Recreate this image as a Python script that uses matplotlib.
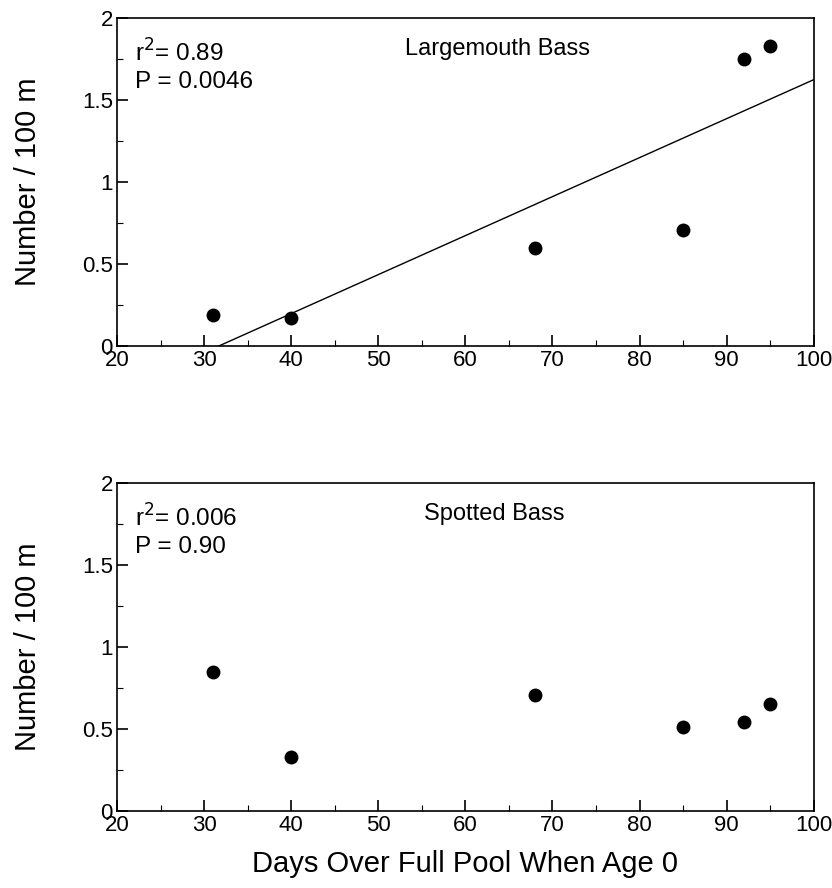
import numpy as np
import matplotlib
matplotlib.use('Agg')
import matplotlib.pyplot as plt
from matplotlib.ticker import MultipleLocator

plt.rcParams['font.family'] = ['Liberation Sans', 'DejaVu Sans']
plt.rcParams['font.size'] = 14

days = [31, 40, 68, 85, 92, 95]
largemouth = [0.19, 0.17, 0.60, 0.71, 1.75, 1.83]
spotted = [0.85, 0.33, 0.71, 0.51, 0.54, 0.65]

species = ['Largemouth Bass', 'Spotted Bass']
r2_text = ['0.89', '0.006']
p_text = ['0.0046', '0.90']
name_x = [0.413, 0.44]


def style_axes(ax):
    ax.set_xlim(20, 100)
    ax.set_ylim(0, 2)
    ax.xaxis.set_major_locator(MultipleLocator(10))
    ax.xaxis.set_minor_locator(MultipleLocator(5))
    ax.yaxis.set_major_locator(MultipleLocator(0.5))
    ax.yaxis.set_minor_locator(MultipleLocator(0.25))
    ax.yaxis.set_major_formatter(plt.FuncFormatter(lambda v, p: '%g' % v))
    ax.tick_params(which='major', direction='in', length=8, width=1.2, labelsize=16, pad=3)
    ax.tick_params(which='minor', direction='in', length=4, width=0.8)
    ax.tick_params(top=False, right=False, which='both')
    for s in ax.spines.values():
        s.set_linewidth(1.2)
    ax.set_ylabel('Number / 100 m', fontsize=21)
    ax.yaxis.set_label_coords(-0.108, 0.5)


fig = plt.figure(figsize=(8.32, 8.88), dpi=100)
ax1 = fig.add_axes([0.1406, 0.6104, 0.8374, 0.3693])
ax2 = fig.add_axes([0.1406, 0.0867, 0.8374, 0.3693])

for ax, y, name, r2, p, nx in zip([ax1, ax2], [largemouth, spotted], species, r2_text, p_text, name_x):
    style_axes(ax)
    ax.plot(days, y, 'o', color='black', markersize=9)
    ax.text(0.026, 0.866, r'r$^2$= ' + r2, transform=ax.transAxes, fontsize=17.5, va='baseline')
    ax.text(0.026, 0.787, 'P = ' + p, transform=ax.transAxes, fontsize=17.5, va='baseline')
    ax.text(nx, 0.887, name, transform=ax.transAxes, fontsize=17, va='baseline')

# regression line for largemouth bass
slope, intercept = np.polyfit(days, largemouth, 1)
xl = np.array([20, 100])
ax1.plot(xl, slope * xl + intercept, color='black', linewidth=1.0)

ax2.set_xlabel('Days Over Full Pool When Age 0', fontsize=21, labelpad=10)

plt.savefig('out.png', dpi=100)
